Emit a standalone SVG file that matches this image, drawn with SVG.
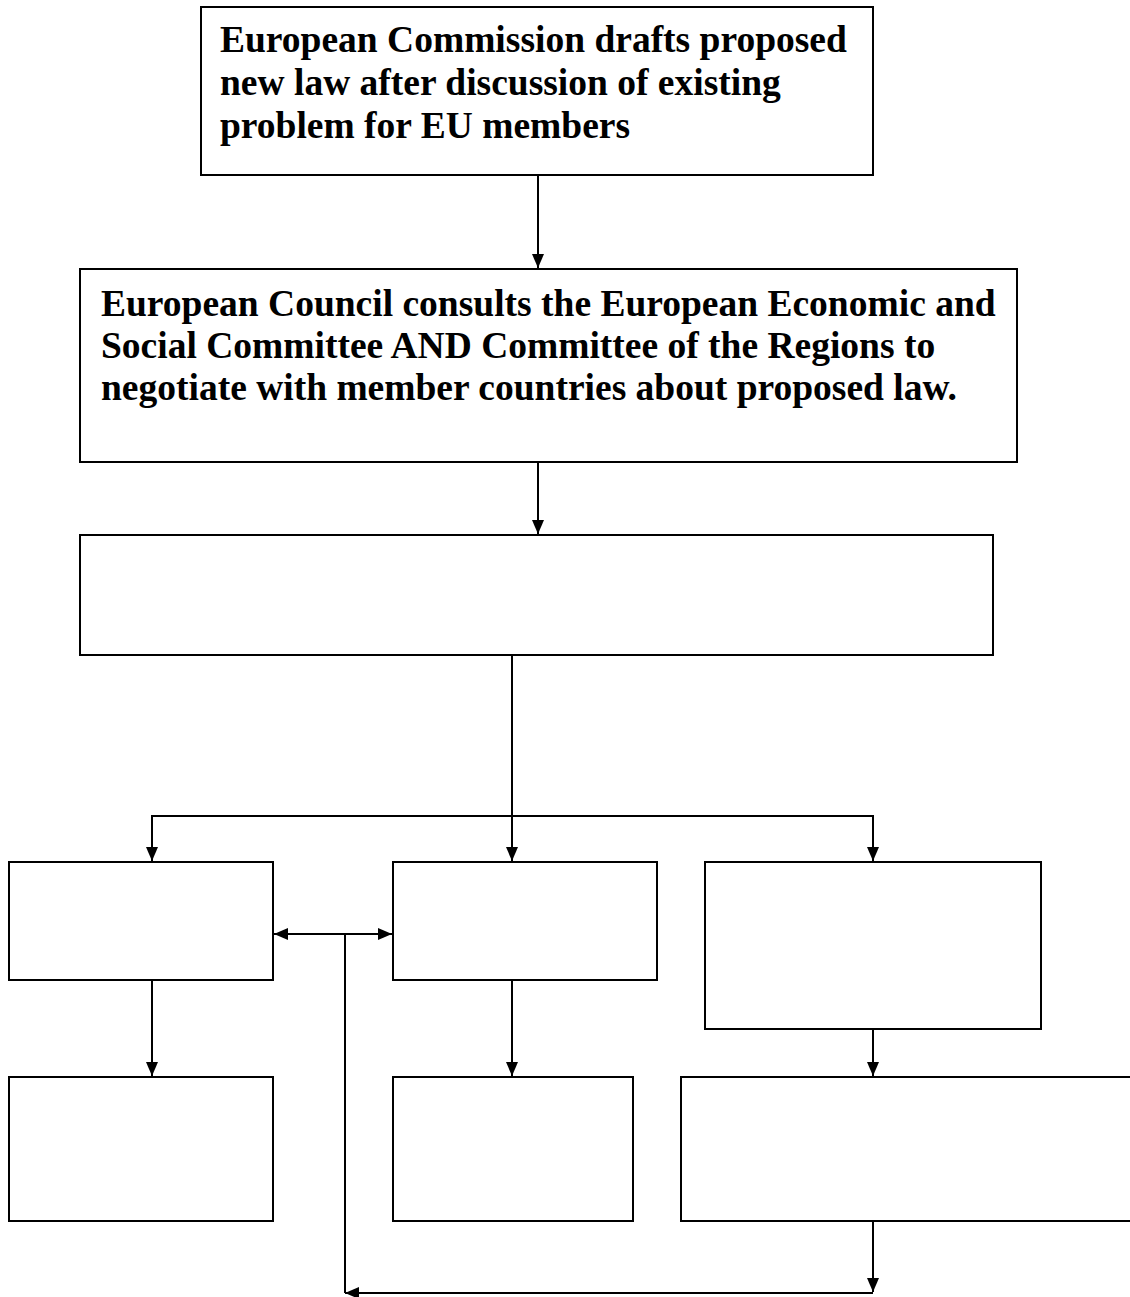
<svg xmlns="http://www.w3.org/2000/svg" width="1130" height="1297" viewBox="0 0 1130 1297">
<style>
.box{fill:#fff;stroke:#000;stroke-width:2}
.ln{fill:none;stroke:#000;stroke-width:2}
.t{font-family:"Liberation Serif","Times New Roman",serif;font-weight:bold;font-size:37.5px;fill:#000}
</style>
<defs>
<marker id="ah" viewBox="0 0 14 12" refX="14" refY="6" markerWidth="14" markerHeight="12" markerUnits="userSpaceOnUse" orient="auto-start-reverse">
<path d="M0,0 L14,6 L0,12 Z" fill="#000"/>
</marker>
</defs>
<rect width="1130" height="1297" fill="#fff"/>
<g id="connectors">
<line class="ln" x1="538" y1="175" x2="538" y2="268" marker-end="url(#ah)"/>
<line class="ln" x1="538" y1="462" x2="538" y2="534" marker-end="url(#ah)"/>
<line class="ln" x1="512" y1="655" x2="512" y2="861" marker-end="url(#ah)"/>
<polyline class="ln" points="152,861 152,816 873,816 873,861" marker-start="url(#ah)" marker-end="url(#ah)"/>
<line class="ln" x1="274" y1="934" x2="392" y2="934" marker-start="url(#ah)" marker-end="url(#ah)"/>
<line class="ln" x1="345" y1="934" x2="345" y2="1293"/>
<line class="ln" x1="152" y1="980" x2="152" y2="1076" marker-end="url(#ah)"/>
<line class="ln" x1="512" y1="980" x2="512" y2="1076" marker-end="url(#ah)"/>
<line class="ln" x1="873" y1="1029" x2="873" y2="1076" marker-end="url(#ah)"/>
<line class="ln" x1="873" y1="1221" x2="873" y2="1292" marker-end="url(#ah)"/>
<line class="ln" x1="873" y1="1293" x2="345" y2="1293" marker-end="url(#ah)"/>
</g>
<g id="n1">
<rect class="box" x="201" y="7" width="672" height="168"/>
<text class="t" x="220" y="52">European Commission drafts proposed</text>
<text class="t" x="220" y="95">new law after discussion of existing</text>
<text class="t" x="220" y="138">problem for EU members</text>
</g>
<g id="n2">
<rect class="box" x="80" y="269" width="937" height="193"/>
<text class="t" x="101" y="316">European Council consults the European Economic and</text>
<text class="t" x="101" y="358">Social Committee AND Committee of the Regions to</text>
<text class="t" x="101" y="400">negotiate with member countries about proposed law.</text>
</g>
<g id="n3"><rect class="box" x="80" y="535" width="913" height="120"/></g>
<g id="n4"><rect class="box" x="9" y="862" width="264" height="118"/></g>
<g id="n5"><rect class="box" x="393" y="862" width="264" height="118"/></g>
<g id="n6"><rect class="box" x="705" y="862" width="336" height="167"/></g>
<g id="n7"><rect class="box" x="9" y="1077" width="264" height="144"/></g>
<g id="n8"><rect class="box" x="393" y="1077" width="240" height="144"/></g>
<g id="n9"><rect class="box" x="681" y="1077" width="460" height="144"/></g>
</svg>
